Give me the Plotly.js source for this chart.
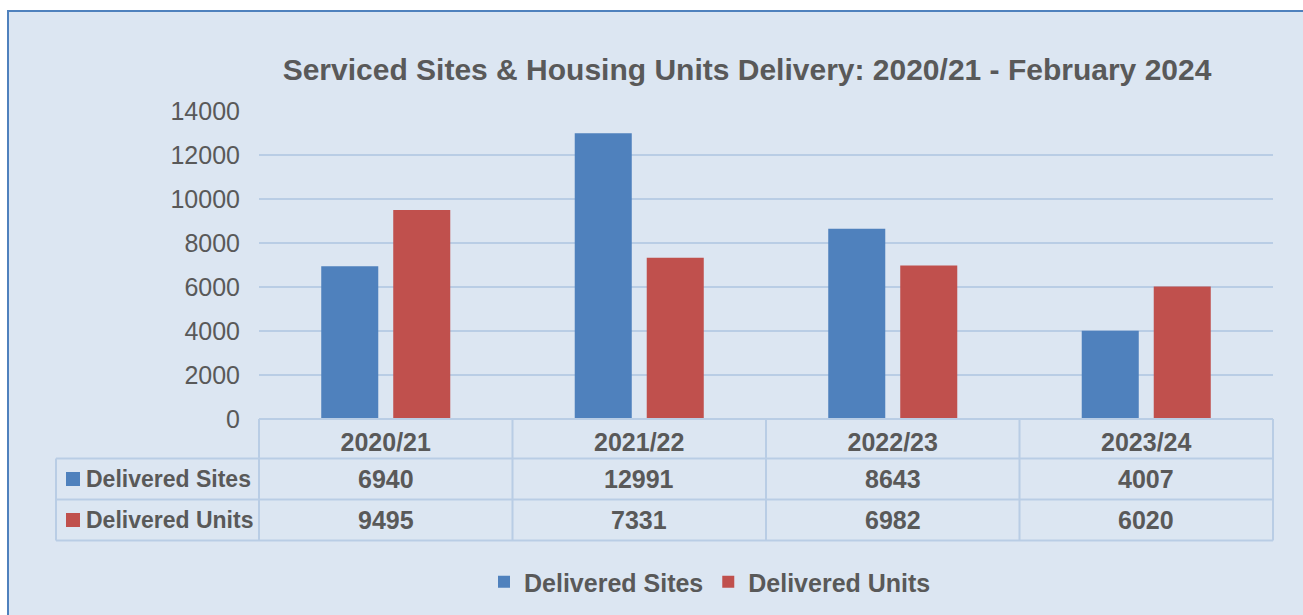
<!DOCTYPE html>
<html>
<head>
<meta charset="utf-8">
<script src="https://cdn.plot.ly/plotly-3.0.1.min.js"></script>
<style>
  html, body { margin: 0; padding: 0; background: #ffffff; overflow: hidden; width: 1303px; height: 615px; }
  #chart { position: absolute; left: 7px; top: 10px; width: 1294px; height: 603px; border: 2px solid #4f81bd; background: #dce6f2; }
</style>
</head>
<body>
<div id="chart"></div>
<script>
// ---- Data ----
var categories = ["2020/21", "2021/22", "2022/23", "2023/24"];
var seriesNames = ["Delivered Sites", "Delivered Units"];
var deliveredSites = [6940, 12991, 8643, 4007];
var deliveredUnits = [9495, 7331, 6982, 6020];
var yTicks = [0, 2000, 4000, 6000, 8000, 10000, 12000, 14000];
var chartTitle = "Serviced Sites &amp; Housing Units Delivery: 2020/21 - February 2024";

// ---- Style ----
var BLUE = "#4f81bd", RED = "#c0504d", TXT = "#595959", GRID = "#b9cde5";
var FONT = "Liberation Sans, Arial, sans-serif";
var seriesColors = [BLUE, RED];
var seriesValues = [deliveredSites, deliveredUnits];

// Geometry helpers (absolute page px -> paper coordinates)
var PL = 259, PW = 1014, PB = 419, PH = 308;
function px(x) { return (x - PL) / PW; }
function py(y) { return (PB - y) / PH; }

var traces = seriesNames.map(function (name, i) {
  return {
    type: "bar", name: name, x: categories, y: seriesValues[i],
    marker: { color: seriesColors[i] }, hoverinfo: "x+y+name"
  };
});

var shapes = [];
var annotations = [];
var lineStyle = { color: GRID, width: 2 };

// Table horizontal lines
[[PL, 419], [56, 458.5], [56, 499.5], [56, 540.5]].forEach(function (p) {
  shapes.push({ type: "line", xref: "paper", yref: "paper", x0: px(p[0]), x1: 1, y0: py(p[1]), y1: py(p[1]), line: lineStyle });
});
// Table vertical lines: plot edges, inner category boundaries, label column edge
shapes.push({ type: "line", xref: "paper", yref: "paper", x0: 0, x1: 0, y0: py(419), y1: py(540.5), line: lineStyle });
shapes.push({ type: "line", xref: "paper", yref: "paper", x0: 1, x1: 1, y0: py(419), y1: py(540.5), line: lineStyle });
shapes.push({ type: "line", xref: "paper", yref: "paper", x0: px(56), x1: px(56), y0: py(458.5), y1: py(540.5), line: lineStyle });
for (var k = 0; k < categories.length - 1; k++) {
  shapes.push({ type: "line", xref: "x", yref: "paper", x0: k + 0.5, x1: k + 0.5, y0: py(419), y1: py(540.5), line: lineStyle });
}

// Row label squares and text, and table values
var rowCenters = [479, 520];
seriesNames.forEach(function (name, i) {
  var c = rowCenters[i];
  shapes.push({ type: "rect", xref: "paper", yref: "paper", x0: px(66), x1: px(80), y0: py(c - 7), y1: py(c + 7), fillcolor: seriesColors[i], line: { width: 0 } });
  annotations.push({ xref: "paper", yref: "paper", x: px(84), y: py(c), xanchor: "left", yanchor: "middle", text: name, showarrow: false, font: { family: FONT, size: 23, color: TXT, weight: "bold" } });
  categories.forEach(function (cat, j) {
    annotations.push({ xref: "x", yref: "paper", x: cat, y: py(c), xanchor: "center", yanchor: "middle", text: String(seriesValues[i][j]), showarrow: false, font: { family: FONT, size: 25, color: TXT, weight: "bold" } });
  });
});

var layout = {
  width: 1294, height: 603,
  margin: { l: 250, r: 30, t: 99, b: 196, pad: 0, autoexpand: false },
  paper_bgcolor: "#dce6f2", plot_bgcolor: "#dce6f2",
  font: { family: FONT, color: TXT },
  title: {
    text: chartTitle, xref: "paper", x: px(747), xanchor: "center",
    yref: "container", y: 1 - (69 - 12) / 603, yanchor: "middle",
    font: { family: FONT, size: 30, color: TXT, weight: "bold" }
  },
  barmode: "group", bargap: 0.432, bargroupgap: 0.208,
  xaxis: {
    type: "category", range: [-0.5, 3.5], showgrid: false, showline: false, zeroline: false,
    ticks: "", tickfont: { family: FONT, size: 25, color: TXT, weight: "bold" }, ticklabelstandoff: 6,
    fixedrange: true, automargin: false
  },
  yaxis: {
    range: [0, 14000], tickvals: yTicks, ticktext: yTicks.map(String),
    showgrid: true, gridcolor: GRID, gridwidth: 2,
    zeroline: true, zerolinecolor: GRID, zerolinewidth: 2,
    showline: false, ticks: "", ticklabelstandoff: 18,
    tickfont: { family: FONT, size: 25, color: TXT }, fixedrange: true, automargin: false
  },
  showlegend: true,
  legend: {
    orientation: "h", xref: "paper", x: px(484), xanchor: "left",
    yref: "paper", y: py(582), yanchor: "middle",
    bgcolor: "rgba(0,0,0,0)", font: { family: FONT, size: 25, color: TXT, weight: "bold" },
    itemclick: false, itemdoubleclick: false
  },
  shapes: shapes,
  annotations: annotations
};

Plotly.newPlot("chart", traces, layout, { displayModeBar: false });
</script>
</body>
</html>
